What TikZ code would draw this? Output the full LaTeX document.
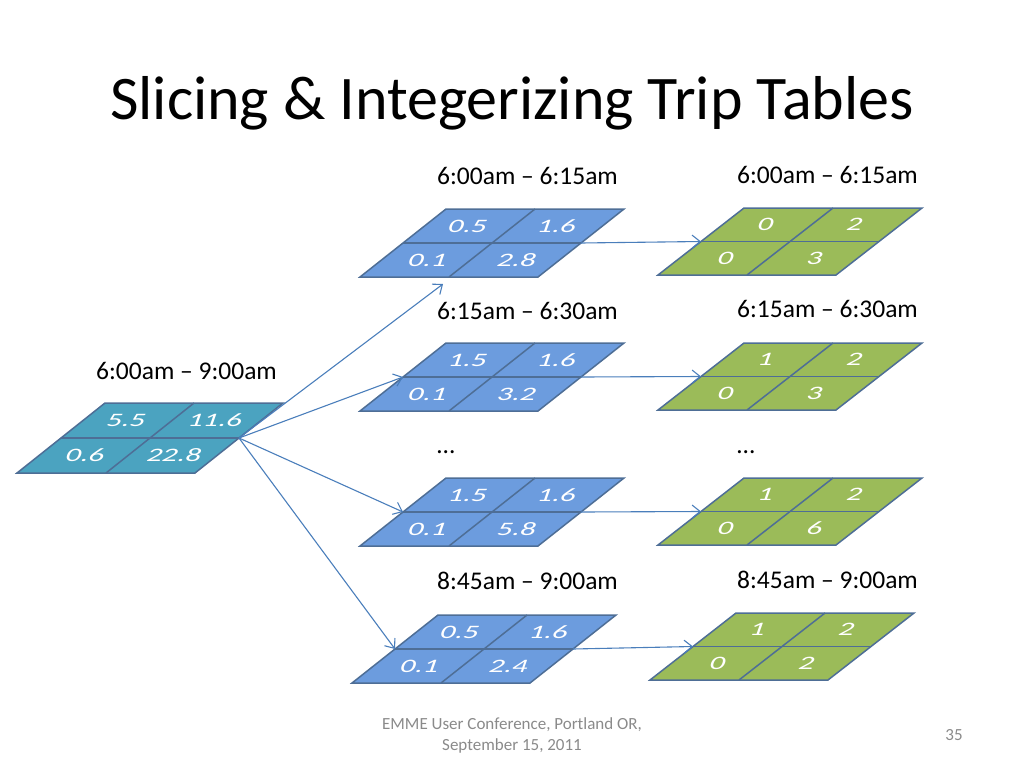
\documentclass[tikz,border=0pt]{standalone}
\usepackage{fontspec}
\setmainfont{Carlito}
\newfontfamily\numfont[FakeSlant=0.22]{Carlito}
\usetikzlibrary{arrows.meta}
\definecolor{cellblue}{HTML}{6C9CDE}
\definecolor{cellteal}{HTML}{4BA3C0}
\definecolor{cellgreen}{HTML}{9BBB59}
\definecolor{cellline}{HTML}{4E6E96}
\definecolor{arrowblue}{HTML}{4A7EBB}
\definecolor{footgrey}{HTML}{8A8A8A}
\newcommand\gw{178}
\newcommand\gh{68}
\newcommand\gs{86}
\newcommand\tgrid[8]{%
  \begin{scope}[shift={(#2,#3)}]
    \filldraw[gridcell,fill=#4] (0,0) -- (\gw,0) -- ({\gw+\gs},-\gh) -- (\gs,-\gh) -- cycle;
    \draw[gridcell] ({\gs/2},{-\gh/2}) -- ({\gw+\gs/2},{-\gh/2});
    \draw[gridcell] ({\gw/2},0) -- ({\gw/2+\gs},-\gh);
    \coordinate (#1-ml) at ({\gs/2},{-\gh/2});
    \coordinate (#1-mr) at ({\gw+\gs/2},{-\gh/2});
    \node[num] (#1-a) at ({(3*\gs+\gw)/4-3},{-3*\gh/4}) {\scalebox{1.6}[1]{#5}};
    \node[num] (#1-b) at ({(3*\gs+\gw)/4+\gw/2-3},{-3*\gh/4}) {\scalebox{1.6}[1]{#6}};
    \node[num] (#1-c) at ({(\gs+\gw)/4},{-\gh/4}) {\scalebox{1.6}[1]{#7}};
    \node[num] (#1-d) at ({(\gs+\gw)/4+\gw/2},{-\gh/4}) {\scalebox{1.6}[1]{#8}};
  \end{scope}}
\begin{document}
\begin{tikzpicture}[x=1pt,y=-1pt,
  gridcell/.style={draw=cellline,line width=1.5pt,line join=miter},
  num/.style={text=white,inner sep=0pt,font=\fontsize{19}{20}\numfont},
  lbl/.style={inner sep=0pt,anchor=base west,font=\fontsize{25.5}{30}\selectfont},
  conn/.style={draw=arrowblue,line width=1.1pt,-{Straight Barb[length=8pt,width=13pt]}},
  foot/.style={inner sep=0pt,text=footgrey,font=\fontsize{17}{21}\selectfont}]
\useasboundingbox (0,0) rectangle (1024,768);
% title
\node[inner sep=0pt,anchor=base,font=\fontsize{62}{70}\selectfont] (title) at (512,119) {Slicing \& Integerizing Trip Tables};
\coordinate (a1end) at (443,284);
% grids
\renewcommand\gh{70}\renewcommand\gs{88}
\tgrid{big}{17}{473}{cellteal}{5.5}{11.6}{0.6}{22.8}
\renewcommand\gh{68}\renewcommand\gs{86}
\tgrid{b1}{360}{277}{cellblue}{0.5}{1.6}{0.1}{2.8}
\tgrid{b2}{360}{411}{cellblue}{1.5}{1.6}{0.1}{3.2}
\tgrid{b3}{360}{546}{cellblue}{1.5}{1.6}{0.1}{5.8}
\tgrid{b4}{352}{683}{cellblue}{0.5}{1.6}{0.1}{2.4}
\renewcommand\gh{67}
\tgrid{g1}{658}{275}{cellgreen}{0}{2}{0}{3}
\tgrid{g2}{658}{410}{cellgreen}{1}{2}{0}{3}
\tgrid{g3}{658}{545}{cellgreen}{1}{2}{0}{6}
\tgrid{g4}{650}{680}{cellgreen}{1}{2}{0}{2}
% connectors
\draw[conn] (big-mr) -- (a1end);
\draw[conn] (big-mr) -- (b2-ml);
\draw[conn] (big-mr) -- (b3-ml);
\draw[conn] (big-mr) -- (b4-ml);
\draw[conn] (b1-mr) -- (g1-ml);
\draw[conn] (b2-mr) -- (g2-ml);
\draw[conn] (b3-mr) -- (g3-ml);
\draw[conn] (b4-mr) -- (g4-ml);
% labels
\node[lbl] (l0) at (96,379) {6:00am – 9:00am};
\node[lbl] (l1) at (437,184) {6:00am – 6:15am};
\node[lbl] (r1) at (737,183) {6:00am – 6:15am};
\node[lbl] (l2) at (437,319) {6:15am – 6:30am};
\node[lbl] (r2) at (737,317) {6:15am – 6:30am};
\node[lbl] (l3) at (437,453) {…};
\node[lbl] (r3) at (737,453) {…};
\node[lbl] (l4) at (437,589) {8:45am – 9:00am};
\node[lbl] (r4) at (737,588) {8:45am – 9:00am};
% footer
\node[foot,anchor=base] (f1) at (512,729) {EMME User Conference, Portland OR,};
\node[foot,anchor=base] (f2) at (512,750) {September 15, 2011};
\node[foot,anchor=base] (pg) at (954,740) {35};
\end{tikzpicture}
\end{document}
